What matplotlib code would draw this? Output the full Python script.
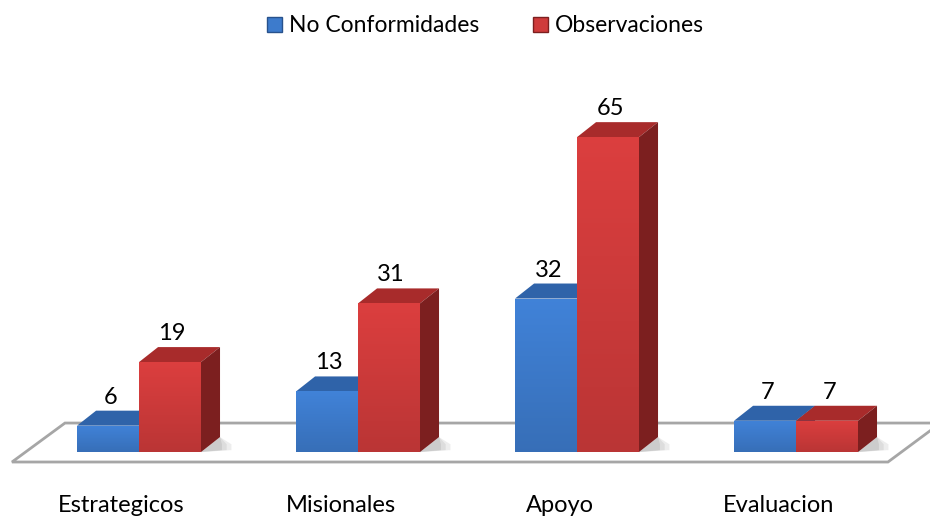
import matplotlib.pyplot as plt
import numpy as np
from matplotlib.patches import Polygon, Patch

categories = ['Estrategicos', 'Misionales', 'Apoyo', 'Evaluacion']
series_names = ['No Conformidades', 'Observaciones']
no_conformidades = [6, 13, 32, 7]
observaciones = [19, 31, 65, 7]

plt.rcParams['font.family'] = ['Lato', 'DejaVu Sans']

# colours: front, top, side
blue = ('#3d7bcc', '#2f63a9', '#28528c')
red = ('#cf3b3b', '#a82b2b', '#7c1f1f')

fig = plt.figure(figsize=(9.3, 5.2), dpi=100)
ax = fig.add_axes([0, 0, 1, 1])
# x in category units, y in value units
ax.set_xlim(-0.6347, 3.6119)
ax.set_ylim(-13.29, 93.05)
ax.axis('off')

bw = 0.283      # bar width
ddx = 0.087     # depth offset in x
ddy = 3.07      # depth offset in y
base = 0.6

# floor
floor = Polygon([(-0.58, -1.43), (3.42, -1.43), (3.66, 6.54), (-0.338, 6.54)],
                closed=True, facecolor='white', edgecolor='#a6a6a6', lw=2, zorder=1)
ax.add_patch(floor)


def draw_bar(x0, v, cols, z):
    front_c, top_c, side_c = cols
    x1 = x0 + bw
    # soft shadow on the floor
    for k, a in enumerate([0.10, 0.10, 0.12]):
        s = 1.6 - 0.25 * k
        sh = Polygon([(x1, base), (x1 + ddx * s, base + 0.4), (x1 + ddx * s, base + 1.6),
                      (x1 + ddx, base + ddy)], closed=True, facecolor='#555555',
                     edgecolor='none', alpha=a, zorder=z - 0.5)
        ax.add_patch(sh)
    top = Polygon([(x0, v), (x1, v), (x1 + ddx, v + ddy), (x0 + ddx, v + ddy)],
                  closed=True, facecolor=top_c, edgecolor='none', zorder=z)
    side = Polygon([(x1, base), (x1 + ddx, base + ddy), (x1 + ddx, v + ddy), (x1, v)],
                   closed=True, facecolor=side_c, edgecolor='none', zorder=z)
    ax.add_patch(top)
    ax.add_patch(side)
    front = Polygon([(x0, base), (x1, base), (x1, v), (x0, v)], closed=True,
                    facecolor='none', edgecolor='none', zorder=z + 0.1)
    ax.add_patch(front)
    # vertical gradient on front face
    c = np.array(plt.matplotlib.colors.to_rgb(front_c))
    grad = np.linspace(1.06, 0.9, 64)[:, None, None] * c[None, None, :]
    grad = np.clip(grad, 0, 1)
    im = ax.imshow(grad, extent=(x0, x1, base, v), origin='upper', aspect='auto',
                   zorder=z + 0.1, interpolation='bilinear')
    im.set_clip_path(front)


for i, cat in enumerate(categories):
    z = 2 + i * 2
    draw_bar(i - bw, no_conformidades[i], blue, z)
    draw_bar(i, observaciones[i], red, z + 1)
    ax.text(i - bw / 2 + 0.01, no_conformidades[i] + ddy + 0.6, str(no_conformidades[i]),
            ha='center', va='bottom', fontsize=17, color='black', zorder=20)
    ax.text(i + bw / 2 + 0.01, observaciones[i] + ddy + 0.6, str(observaciones[i]),
            ha='center', va='bottom', fontsize=17, color='black', zorder=20)
    ax.text(i - 0.08, -10.3, cat, ha='center', va='center', fontsize=17, color='black')

handles = [Patch(facecolor=blue[0], edgecolor='#28528c'),
           Patch(facecolor=red[0], edgecolor='#7c1f1f')]
fig.legend(handles, series_names, loc='upper center', bbox_to_anchor=(0.522, 1.01),
           ncol=2, frameon=False, fontsize=16.5, handlelength=0.65, handleheight=0.65,
           handletextpad=0.3, columnspacing=2.35)

fig.savefig('out.png', dpi=100)
